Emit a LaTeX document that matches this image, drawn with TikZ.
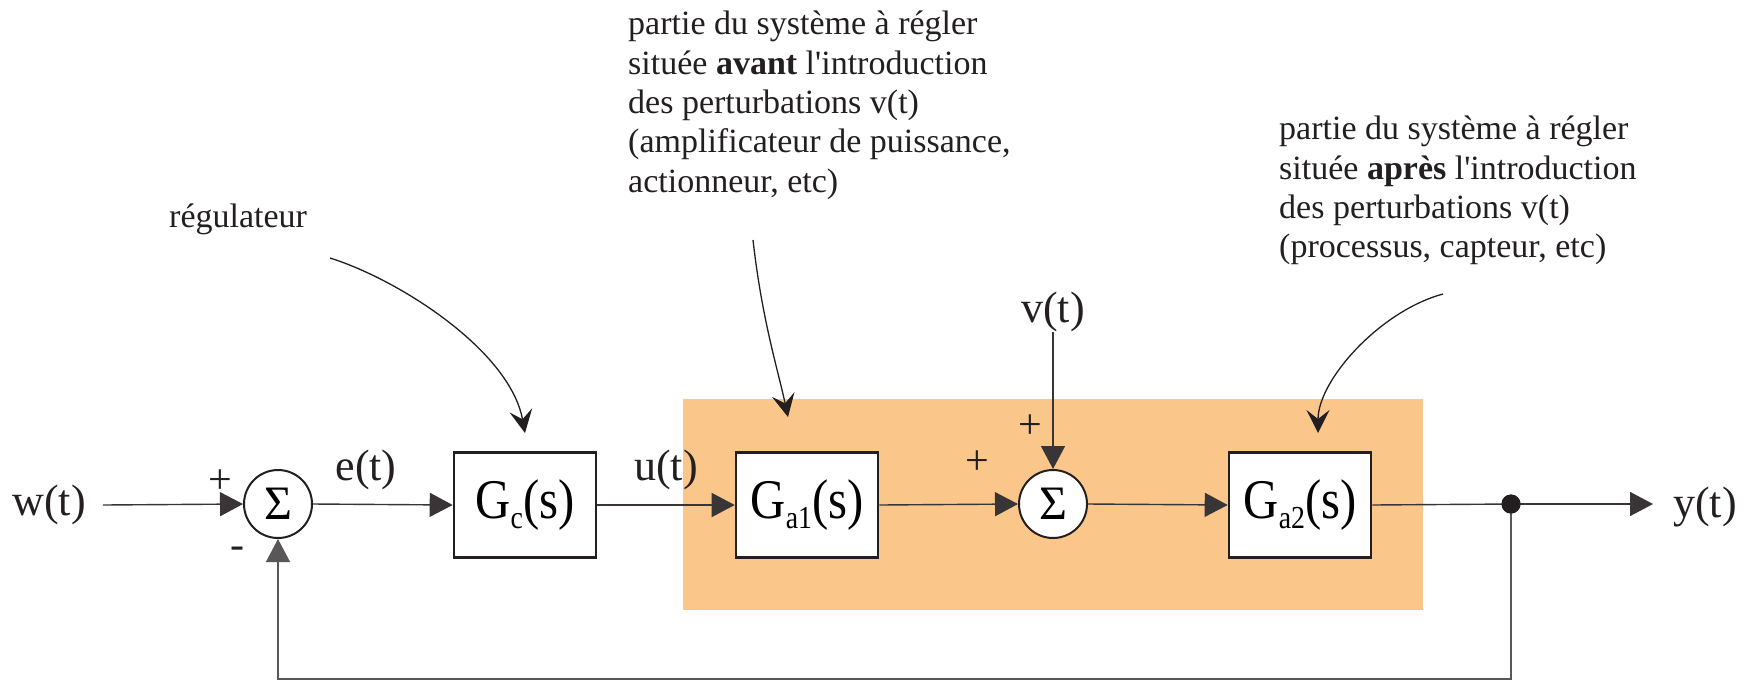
\documentclass[tikz,border=0pt]{standalone}
\usepackage{fontspec}
\usepackage{graphicx}
\setmainfont{Liberation Serif}
\usetikzlibrary{arrows.meta,calc}
\definecolor{zone}{RGB}{251,198,138}
\definecolor{ink}{RGB}{35,31,32}
\newcommand{\tfname}[1]{\scalebox{0.87}[1]{G\raisebox{-10pt}{\fontsize{32}{32}\selectfont #1}(s)}}
\begin{document}
\begin{tikzpicture}[x=1pt,y=-1pt,
  blk/.style={draw=ink, line width=2.6pt, fill=white, minimum width=142pt, minimum height=105pt, inner sep=0pt, font=\fontsize{56}{60}\selectfont},
  sumnode/.style={circle, draw=ink, line width=2pt, fill=white, minimum size=68pt, inner sep=0pt, font=\fontsize{48}{48}\selectfont},
  sig/.style={font=\fontsize{44}{50}\selectfont, inner sep=0pt, text=ink},
  sgn/.style={font=\fontsize{42}{42}\selectfont, inner sep=0pt, text=ink},
  note/.style={font=\fontsize{34}{39.3}\selectfont, align=left, inner sep=0pt, text=ink},
  conn/.style={draw=ink!90, line width=1.4pt},
  tri/.style={-{Triangle[length=23pt,width=24pt]}},
  ann/.style={draw=ink, line width=1.3pt, -{Stealth[length=23pt,width=23pt,inset=9pt]}},
]
\useasboundingbox (0,0) rectangle (1752,681);
\fill[white] (0,0) rectangle (1752,681);
\fill[zone] (683,399) rectangle (1423,610);

% signals and blocks
\node[sig] (w) at (49,505) {w(t)};
\node[sumnode] (s1) at (278,504) {Σ};
\node[blk] (gc) at (525,505) {\tfname{c}};
\node[blk] (ga1) at (807,505) {\tfname{a1}};
\node[sumnode] (s2) at (1053,504) {Σ};
\node[blk] (ga2) at (1300,505) {\tfname{a2}};
\node[circle, fill=ink, minimum size=19pt, inner sep=0pt, outer sep=0pt] (dot) at (1511,504) {};
\coordinate (yend) at (1653,504);
\node[sig] (y) at (1705,507) {y(t)};
\node[sig] (v) at (1053,312) {v(t)};
\coordinate (fb) at (1511,679);

\node[sig] (e) at (366,470) {e(t)};
\node[sig] (u) at (666,470) {u(t)};
\node[sgn] (p1) at (220,482) {+};
\node[sgn] (m1) at (237,553) {-};
\node[sgn] (p2) at (977,463) {+};
\node[sgn] (p3) at (1030,427) {+};

% connectors
\draw[conn,tri] ([xshift=17pt]w.east) -- (s1.west);
\draw[conn,tri] (s1.east) -- (gc.west);
\draw[conn,tri] (gc.east) -- (ga1.west);
\draw[conn,tri] (ga1.east) -- (s2.west);
\draw[conn,tri] (s2.east) -- (ga2.west);
\draw[conn] (ga2.east) -- (dot.center);
\draw[conn,tri] (dot.center) -- (yend);
\draw[conn,tri] (v.south) -- (s2.north);
\draw[conn,draw=ink!75,tri] (dot.center) -- (fb) -| (s1.south);
\fill[ink] (dot.center) circle[radius=9.5pt];

% annotations
\node[note, anchor=base west] (n0) at (169,227) {régulateur};
\node[note, anchor=north west] (n1) at (628,11) {partie du système à régler\\située \textbf{avant} l\textquotesingle introduction\\des perturbations v(t)\\(amplificateur de puissance,\\actionneur, etc)};
\node[note, anchor=north west] (n2) at (1279,116) {partie du système à régler\\située \textbf{après} l\textquotesingle introduction\\des perturbations v(t)\\(processus, capteur, etc)};

\coordinate (a0s) at (330,258); \coordinate (a0e) at (525,433);
\coordinate (a1s) at (753,240); \coordinate (a1e) at (788,417);
\coordinate (a2s) at (1443,294); \coordinate (a2e) at (1318,433);
\draw[ann] (a0s) .. controls (400,280) and (510,351) .. (a0e);
\draw[ann] (a1s) .. controls (762,320) and (778,370) .. (a1e);
\draw[ann] (a2s) .. controls (1380,311) and (1318,380) .. (a2e);
\end{tikzpicture}
\end{document}
